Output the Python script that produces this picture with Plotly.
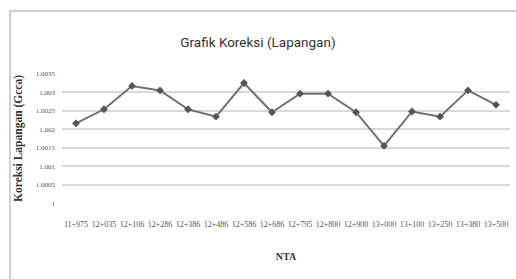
import plotly.graph_objects as go

stations = ["11+975", "12+035", "12+106", "12+286", "12+386", "12+486", "12+586", "12+686",
            "12+795", "12+800", "12+900", "13+000", "13+100", "13+250", "13+380", "13+500"]
koreksi = [1.00216, 1.00254, 1.00317, 1.00305, 1.00254, 1.00234, 1.00325, 1.00246,
           1.00296, 1.00296, 1.00246, 1.00155, 1.00248, 1.00234, 1.00305, 1.00266]
y_ticks = [1.0, 1.0005, 1.001, 1.0015, 1.002, 1.0025, 1.003, 1.0035]
y_labels = ["1", "1.0005", "1.001", "1.0015", "1.002", "1.0025", "1.003", "1.0035"]

fig = go.Figure()
fig.add_trace(go.Scatter(
    x=stations, y=koreksi, mode="lines+markers",
    line=dict(color="#707070", width=2),
    marker=dict(symbol="diamond", size=6, color="#555555"),
))

fig.update_layout(
    width=516, height=279,
    margin=dict(l=62, r=6, t=73, b=75),
    paper_bgcolor="white", plot_bgcolor="white",
    showlegend=False,
    title=dict(text="Grafik Koreksi (Lapangan)", x=0.5, xanchor="center", y=0.85, yanchor="middle",
               font=dict(family="Roboto, sans-serif", size=13.5, color="#333333")),
    xaxis=dict(type="category", range=[-0.5, 15.5], tickangle=0, showgrid=False, zeroline=False,
               showline=False, ticks="", ticklabelstandoff=14,
               tickfont=dict(family="Liberation Serif, serif", size=8, color="#555555"),
               title=dict(text="<b>NTA</b>", standoff=24,
                          font=dict(family="Liberation Serif, serif", size=10, color="#333333"))),
    yaxis=dict(range=[0.99998, 1.00352], tickvals=y_ticks, ticktext=y_labels,
               showgrid=True, gridcolor="#d9d9d9", gridwidth=2, zeroline=False,
               showline=False, ticks="", ticklabelstandoff=6,
               tickfont=dict(family="Liberation Serif, serif", size=7, color="#555555"),
               title=dict(text="<b>Koreksi Lapangan (Gcca)</b>", standoff=10,
                          font=dict(family="Liberation Serif, serif", size=11.5, color="#333333"))),
    shapes=[dict(type="rect", xref="paper", yref="paper",
                 x0=-0.116, x1=1.02, y0=-0.6, y1=1.473,
                 line=dict(color="#d0d0d0", width=2), layer="below")],
)

fig.write_html("out.html", config={"displayModeBar": False},
               post_script="document.body.style.margin='0';")
